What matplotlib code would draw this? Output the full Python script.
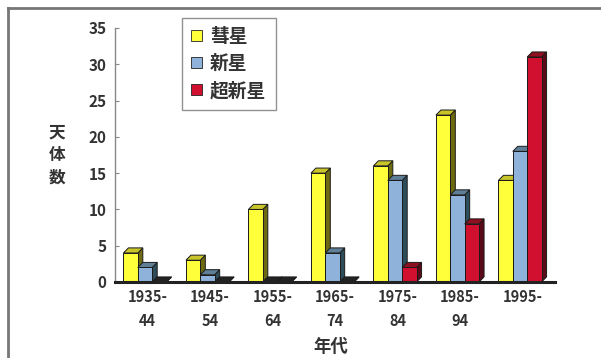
import matplotlib
matplotlib.use("Agg")
import matplotlib.pyplot as plt
from matplotlib.patches import Polygon, Rectangle, Patch
from matplotlib.lines import Line2D

plt.rcParams['font.family'] = ['Noto Sans CJK JP', 'DejaVu Sans']
plt.rcParams['font.weight'] = 'bold'

categories = ['1935-\n44', '1945-\n54', '1955-\n64', '1965-\n74', '1975-\n84', '1985-\n94', '1995-']
series_names = ['彗星', '新星', '超新星']
comets = [4, 3, 10, 15, 16, 23, 14]
novae = [2, 1, 0, 4, 14, 12, 18]
supernovae = [0, 0, 0, 0, 2, 8, 31]
yticks = [0, 5, 10, 15, 20, 25, 30, 35]
y_label = '天\n体\n数'
x_label = '年代'

front_colors = ['#FFFF3A', '#8EB2DA', '#D0102E']
side_colors = ['#6E6A10', '#2E4D5A', '#5A0A18']
top_colors = ['#C8C42A', '#5E7F96', '#8E1020']

W, H = 601, 358
fig = plt.figure(figsize=(W / 100, H / 100), dpi=100)
fig.patch.set_facecolor('white')

ax_l, ax_r, ax_t, ax_b = 115, 555, 28, 282
ax = fig.add_axes([ax_l / W, 1 - ax_b / H, (ax_r - ax_l) / W, (ax_b - ax_t) / H])
ax.set_xlim(-0.48, 6.56)
ax.set_ylim(0, 35)

bw = 0.23
dx = 0.08
dy = 0.7
all_series = [comets, novae, supernovae]
for i in range(len(categories)):
    for s, vals in enumerate(all_series):
        v = vals[i]
        x0 = i + (s - 1.5) * bw
        front = Rectangle((x0, 0), bw, v, facecolor=front_colors[s],
                          edgecolor='#1a1a1a', linewidth=0.7, zorder=3)
        side = Polygon([(x0 + bw, 0), (x0 + bw + dx, dy), (x0 + bw + dx, v + dy), (x0 + bw, v)],
                       closed=True, facecolor=side_colors[s], edgecolor='#1a1a1a',
                       linewidth=0.7, zorder=3)
        top = Polygon([(x0, v), (x0 + dx, v + dy), (x0 + bw + dx, v + dy), (x0 + bw, v)],
                      closed=True, facecolor=top_colors[s] if v > 0 else '#222222',
                      edgecolor='#1a1a1a', linewidth=0.7, zorder=3)
        ax.add_patch(side)
        ax.add_patch(top)
        ax.add_patch(front)

for sp in ['top', 'right']:
    ax.spines[sp].set_visible(False)
ax.spines['left'].set_color('#888888')
ax.spines['left'].set_linewidth(1.0)
ax.spines['bottom'].set_color('#222222')
ax.spines['bottom'].set_linewidth(2.2)
ax.spines['bottom'].set_zorder(4)

ax.set_yticks(yticks)
ax.set_yticklabels([str(t) for t in yticks], fontsize=11, fontweight='bold', color='#333333')
ax.tick_params(axis='y', direction='in', length=3, width=0.8, color='#888888', pad=6)
ax.set_xticks([i + dx / 2 for i in range(len(categories))])
ax.set_xticklabels(categories, fontsize=10.5, fontweight='bold', color='#333333', linespacing=1.6)
ax.tick_params(axis='x', length=0, pad=5)

fig.text(57 / W, 1 - 155 / H, y_label, ha='center', va='center', fontsize=12,
         fontweight='bold', color='#333333', linespacing=1.35)
fig.text(331 / W, 1 - 338 / H, x_label, ha='center', va='top', fontsize=12.5,
         fontweight='bold', color='#333333')

handles = [Patch(facecolor=front_colors[k], edgecolor='#222222', linewidth=0.6)
           for k in range(3)]
leg = fig.legend(handles, series_names, loc='upper left',
                 bbox_to_anchor=(182 / W, 1 - 18 / H), bbox_transform=fig.transFigure,
                 borderaxespad=0, fontsize=13.5, frameon=True, fancybox=False,
                 handlelength=0.55, handleheight=0.55, handletextpad=0.45,
                 labelspacing=0.42, borderpad=0.5)
leg.get_frame().set_edgecolor('#777777')
leg.get_frame().set_linewidth(1.0)
for t in leg.get_texts():
    t.set_fontweight('bold')
    t.set_color('#333333')

# outer frame (top and left edges)
fig.add_artist(Line2D([8 / W, 1], [1 - 8 / H, 1 - 8 / H], transform=fig.transFigure,
                      color='#777777', linewidth=2))
fig.add_artist(Line2D([8 / W, 8 / W], [0, 1 - 8 / H], transform=fig.transFigure,
                      color='#777777', linewidth=2))

fig.savefig('out.png', dpi=100, facecolor='white')
